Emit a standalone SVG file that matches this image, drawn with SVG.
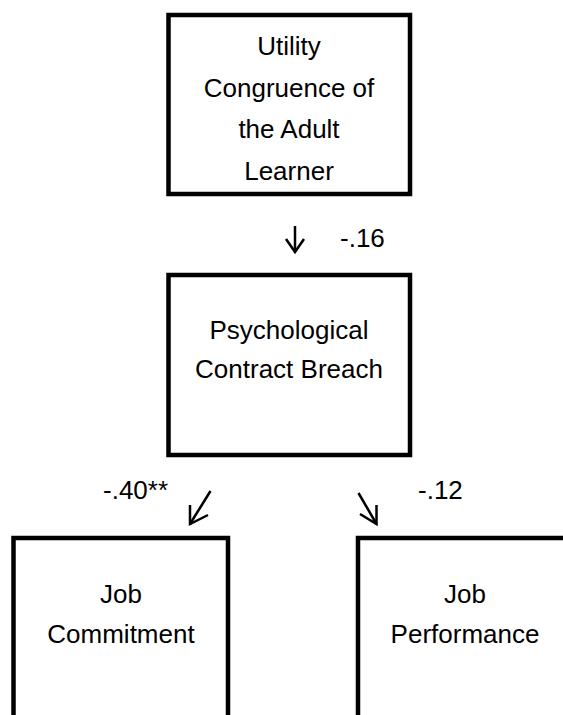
<svg xmlns="http://www.w3.org/2000/svg" width="563" height="715" viewBox="0 0 563 715">
<style>
.box{fill:#fff;stroke:#000;stroke-width:4.5}
.t{font-family:"Liberation Sans",Arial,sans-serif;font-size:26px;fill:#000;text-anchor:middle}
.l{font-family:"Liberation Sans",Arial,sans-serif;font-size:26px;fill:#000}
.a{fill:none;stroke:#000;stroke-width:2.5;stroke-linecap:butt;stroke-linejoin:miter}
</style>
<rect width="563" height="715" fill="#fff"/>
<g id="utility">
<rect class="box" x="168.5" y="15" width="241.5" height="179"/>
<text class="t" x="289" y="55">Utility</text>
<text class="t" x="289" y="97">Congruence of</text>
<text class="t" x="289" y="138">the Adult</text>
<text class="t" x="289" y="180">Learner</text>
</g>
<g id="breach">
<rect class="box" x="168.5" y="275" width="241.5" height="180"/>
<text class="t" x="289" y="339">Psychological</text>
<text class="t" x="289" y="378">Contract Breach</text>
</g>
<g id="commitment">
<rect class="box" x="13.5" y="538" width="214.5" height="200"/>
<text class="t" x="121" y="603">Job</text>
<text class="t" x="121" y="643">Commitment</text>
</g>
<g id="performance">
<rect class="box" x="358" y="538" width="214.5" height="200"/>
<text class="t" x="465" y="603">Job</text>
<text class="t" x="465" y="643">Performance</text>
</g>
<g id="connectors">
<line class="a" x1="295" y1="226" x2="295" y2="252"/>
<polyline class="a" points="286,239 295,252 304,239"/>
<line class="a" x1="210.5" y1="491" x2="190" y2="524"/>
<polyline class="a" points="190,505 190,524 208,515"/>
<line class="a" x1="358.5" y1="493" x2="376.5" y2="524"/>
<polyline class="a" points="376.5,505 376.5,524 360,514"/>
<text class="l" x="340" y="247">-.16</text>
<text class="l" x="103" y="499">-.40**</text>
<text class="l" x="418" y="499">-.12</text>
</g>
</svg>
